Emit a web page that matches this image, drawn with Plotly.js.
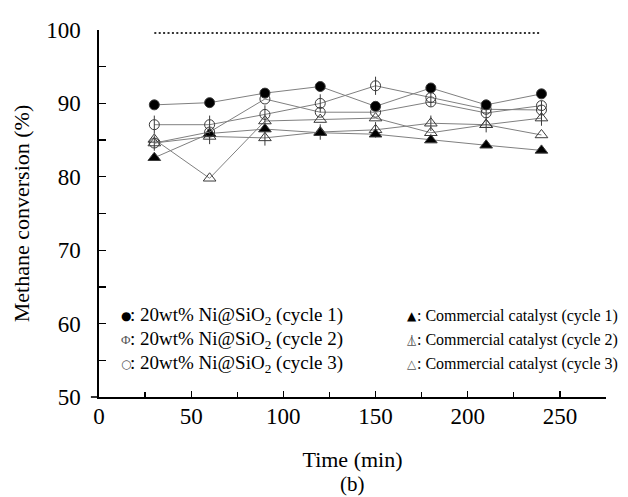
<!DOCTYPE html>
<html>
<head>
<meta charset="utf-8">
<script src="https://cdn.plot.ly/plotly-3.0.1.min.js"></script>
<style>html,body{margin:0;padding:0;background:#fff;}#chart{width:628px;height:497px;}</style>
</head>
<body>
<div id="chart"></div>
<script>
// ---- data ----
const timeMin = [30, 60, 90, 120, 150, 180, 210, 240];
const niCycle1 = [89.8, 90.1, 91.4, 92.3, 89.6, 92.1, 89.8, 91.3];
const niCycle2 = [87.1, 87.1, 88.5, 90.0, 92.4, 90.8, 89.2, 89.1];
const niCycle3 = [84.6, 86.1, 90.6, 88.8, 88.8, 90.2, 88.7, 89.7];
const comCycle1 = [82.6, 85.9, 86.5, 86.0, 85.8, 85.0, 84.3, 83.6];
const comCycle2 = [84.6, 85.5, 85.3, 86.1, 86.4, 87.3, 87.1, 88.0];
const comCycle3 = [85.1, 79.8, 87.6, 87.8, 88.0, 86.0, 87.1, 85.7];
const refX = [30, 240];
const refY = [99.6, 99.6];
const legendNi = [': 20wt% Ni@SiO<sub>2</sub> (cycle 1)', ': 20wt% Ni@SiO<sub>2</sub> (cycle 2)', ': 20wt% Ni@SiO<sub>2</sub> (cycle 3)'];
const legendCom = [': Commercial catalyst (cycle 1)', ': Commercial catalyst (cycle 2)', ': Commercial catalyst (cycle 3)'];
const xTitle = 'Time (min)';
const yTitle = 'Methane conversion (%)';
const panelLabel = '(b)';

const FONT = 'Liberation Serif, Times New Roman, serif';
const lineC = '#808080';
const edge = '#3a3a3a';

function series(y, symbol, fill, size) {
  return {x: timeMin, y: y, mode: 'lines+markers', type: 'scatter', showlegend: false,
    line: {color: lineC, width: 1},
    marker: {symbol: symbol, size: size, color: fill, line: {color: edge, width: 1}}};
}
function bar(y, size) {
  return {x: timeMin, y: y, mode: 'markers', type: 'scatter', showlegend: false,
    marker: {symbol: 'line-ns-open', size: size, color: edge, line: {color: edge, width: 1}}};
}

const traces = [
  {x: refX, y: refY, mode: 'lines', type: 'scatter', showlegend: false,
   line: {color: '#333', width: 2, dash: '2px,2.4px'}},
  series(comCycle3, 'triangle-up-open', edge, 11),
  series(comCycle2, 'triangle-up-open', edge, 11), bar(comCycle2, 11),
  series(comCycle1, 'triangle-up', '#000', 11),
  series(niCycle3, 'circle-open', edge, 10),
  series(niCycle2, 'circle-open', edge, 10), bar(niCycle2, 13),
  series(niCycle1, 'circle', '#000', 10)
];

const rows = [0.221, 0.156, 0.091];
const glyphNi = ['●', 'Φ', '○'];
const glyphCom = ['▲', '△', '△'];
const ann = [];
for (let i = 0; i < 3; i++) {
  ann.push({xref: 'paper', yref: 'paper', x: 0.053, y: rows[i], text: glyphNi[i], showarrow: false,
    xanchor: 'center', yanchor: 'middle', font: {family: i === 1 ? FONT : 'DejaVu Sans', size: i === 1 ? 13 : 12, color: i === 0 ? '#000' : '#555'}});
  ann.push({xref: 'paper', yref: 'paper', x: 0.058, y: rows[i], text: legendNi[i], showarrow: false,
    xanchor: 'left', yanchor: 'middle', font: {family: FONT, size: 19, color: '#000'}});
  ann.push({xref: 'paper', yref: 'paper', x: 0.618, y: rows[i], text: glyphCom[i], showarrow: false,
    xanchor: 'center', yanchor: 'middle', font: {family: 'DejaVu Sans', size: 12, color: i === 0 ? '#000' : '#555'}});
  if (i === 1) {
    ann.push({xref: 'paper', yref: 'paper', x: 0.618, y: rows[i], text: '|', showarrow: false,
      xanchor: 'center', yanchor: 'middle', font: {family: 'DejaVu Sans', size: 11, color: '#555'}});
  }
  ann.push({xref: 'paper', yref: 'paper', x: 0.624, y: rows[i], text: legendCom[i], showarrow: false,
    xanchor: 'left', yanchor: 'middle', font: {family: FONT, size: 16, color: '#000'}});
}
ann.push({xref: 'paper', yref: 'paper', x: 0.5, y: -0.236, text: panelLabel, showarrow: false,
  xanchor: 'center', yanchor: 'middle', font: {family: FONT, size: 21, color: '#000'}});

const layout = {
  width: 628, height: 497,
  margin: {l: 99, r: 22, t: 30, b: 100},
  paper_bgcolor: '#fff', plot_bgcolor: '#fff',
  font: {family: FONT, size: 23, color: '#000'},
  showlegend: false,
  shapes: [{type: 'line', xref: 'paper', yref: 'paper', x0: -0.016, x1: 0, y0: 0, y1: 0,
    line: {color: '#000', width: 1.6}}],
  xaxis: {range: [0, 275], dtick: 50, tick0: 0, ticks: 'inside', ticklen: 6, tickwidth: 1.3, tickcolor: '#000',
    minor: {dtick: 25, ticks: 'inside', ticklen: 5, tickwidth: 1.3, tickcolor: '#000'},
    showline: true, linecolor: '#000', linewidth: 1.6, showgrid: false, zeroline: false,
    ticklabelstandoff: -2,
    title: {text: xTitle, font: {family: FONT, size: 22}, standoff: 23}, automargin: false},
  yaxis: {range: [50, 100], dtick: 10, tick0: 50, ticks: 'inside', ticklen: 7, tickwidth: 1.3, tickcolor: '#000',
    minor: {dtick: 5, ticks: 'inside', ticklen: 7, tickwidth: 1.3, tickcolor: '#000'},
    showline: true, linecolor: '#000', linewidth: 1.6, showgrid: false, zeroline: false,
    ticklabelstandoff: 12,
    title: {text: yTitle, font: {family: FONT, size: 22}, standoff: 10}, automargin: false},
  annotations: ann
};

Plotly.newPlot('chart', traces, layout, {displayModeBar: false, staticPlot: true});
</script>
</body>
</html>
